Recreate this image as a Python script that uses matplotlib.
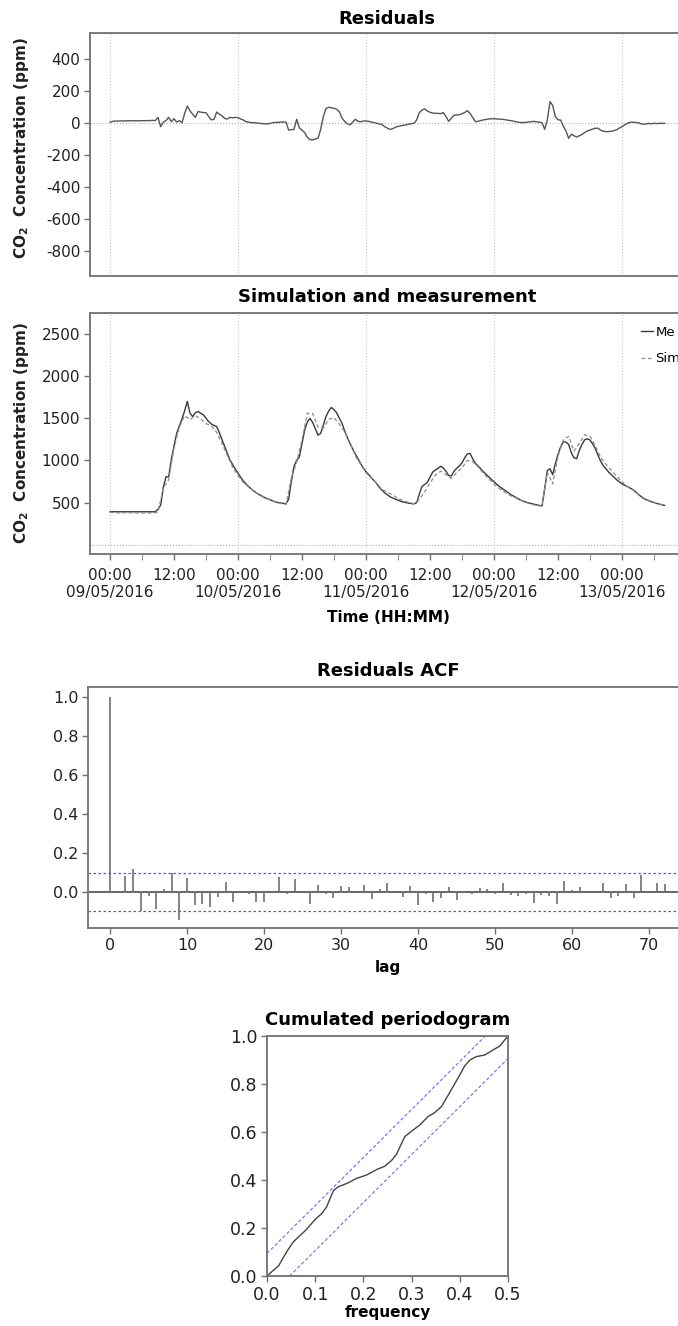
import matplotlib
matplotlib.use("Agg")
import matplotlib.pyplot as plt
import matplotlib.dates as mdates
import matplotlib.ticker as mticker
import numpy as np
import pandas as pd

plt.rcParams["font.family"] = ["DejaVu Sans"]
plt.rcParams["axes.unicode_minus"] = False
plt.rcParams["mathtext.fontset"] = "dejavusans"

START = "2016-05-09 00:00"

# CO2 measurement, every 30 min (ppm)
measured = [
    390, 392, 390, 390, 391, 390, 389, 390, 390, 390, 389, 390, 390, 390, 390, 390, 391, 390,
    420, 470, 680, 805, 805, 1010, 1170, 1320, 1410, 1490, 1590, 1700, 1560, 1520, 1565, 1580,
    1560, 1540, 1500, 1460, 1432, 1415, 1400, 1330, 1245, 1165, 1085, 1004, 950, 895,
    850, 800, 755, 720, 690, 660, 635, 612, 592, 575, 558, 545, 532, 520, 508, 500, 494, 490,
    484, 540, 750, 930, 1000, 1040, 1200, 1360, 1455, 1499, 1450, 1375, 1300, 1320, 1420, 1520,
    1585, 1628, 1600, 1566, 1500, 1440, 1350, 1270, 1200, 1135, 1075, 1020, 960, 910,
    866, 830, 795, 760, 725, 680, 645, 615, 592, 569, 553, 540, 528, 515, 505, 498, 492, 488,
    484, 500, 600, 690, 715, 740, 800, 860, 885, 905, 930, 910, 870, 820, 815, 870,
    905, 935, 970, 1030, 1076, 1084, 1020, 965, 935, 900, 866, 835, 805, 775,
    747, 718, 690, 668, 645, 625, 600, 582, 565, 545, 528, 515, 505, 495, 487, 480, 472, 466,
    460, 660, 880, 900, 830, 960, 1070, 1160, 1222, 1215, 1190, 1090, 1030, 1020, 1120, 1190,
    1245, 1255, 1242, 1195, 1140, 1060, 990, 935, 900, 860, 830, 800, 770, 745,
    722, 705, 690, 672, 655, 630, 600, 575, 550, 535, 522, 510, 500, 490, 480, 472, 465,
]

# CO2 simulation, hourly (ppm)
simulated = [
    385, 378, 378, 377, 377, 376, 375, 375, 375, 385, 675, 770, 1143, 1395, 1530, 1485,
    1530, 1492, 1436, 1412, 1332, 1200, 1060, 918,
    817, 737, 685, 633, 594, 563, 535, 505, 489, 479, 792, 977, 1245, 1560, 1556, 1396,
    1380, 1487, 1508, 1430, 1340, 1212, 1052, 952,
    853, 789, 727, 655, 624, 589, 550, 520, 500, 486, 535, 627, 733, 825, 872, 830,
    785, 855, 912, 999, 985, 925, 847, 780,
    720, 666, 624, 585, 557, 525, 501, 479, 465, 458, 860, 720, 1050, 1242, 1286, 1110,
    1200, 1305, 1286, 1173, 1035, 954, 882, 812,
    745, 688, 650, 598, 558, 525, 502, 482, 467,
]

# residuals, every 30 min (ppm)
residuals = [
    5, 10, 12, 12, 13, 12, 13, 14, 13, 14, 14, 13, 15, 14, 15, 15, 16, 15,
    35, -23, 5, 15, 35, 8, 27, 5, 15, 2, 60, 106, 75, 55, 35, 71, 68, 65, 64, 40, 20, 22,
    68, 55, 45, 28, 25, 35, 32, 35,
    33, 25, 18, 8, 5, 2, 2, 0, -2, -4, -5, -6, -3, 2, 3, 4, 5, 6,
    5, -44, -42, -40, 23, -30, -45, -60, -90, -104, -106, -100, -96, -40, 40, 90, 98, 95,
    92, 85, 70, 30, 10, -5, -12, 5, 23, 10, 8, 12,
    13, 10, 6, 2, -2, -6, -10, -23, -32, -40, -36, -27, -22, -18, -15, -12, -8, -5,
    -2, 19, 65, 80, 88, 75, 67, 62, 60, 60, 58, 65, 40, 10, 30, 48, 50, 52, 58, 65,
    77, 60, 35, 8, 10, 15, 19, 22, 25, 26,
    27, 25, 24, 23, 21, 18, 15, 13, 8, 5, 3, 2, 4, 6, 8, 10, 7, 5,
    2, -40, 20, 133, 110, 40, 20, 18, -20, -50, -96, -70, -80, -88, -80, -72, -60, -50,
    -44, -38, -33, -33, -45, -52, -54, -54, -52, -48, -42, -32,
    -23, -12, -2, 4, 5, 3, 2, -4, -8, -6, -3, -5, -2, -4, -2, -3, -2,
]

# legend labels as far as they show in the picture
series_labels = ["Me", "Sim"]

acf_values = [
    1.0, 0.005, 0.085, 0.12, -0.094, -0.019, -0.084, 0.02, 0.10, -0.142,
    0.075, -0.065, -0.06, -0.077, -0.022, 0.055, -0.051, -0.005, -0.009, -0.051,
    -0.051, 0.007, 0.08, -0.01, 0.068, 0.005, -0.06, 0.037, -0.01, -0.027,
    0.032, 0.028, 0.003, 0.04, -0.036, 0.017, 0.046, 0.008, -0.022, 0.031,
    -0.065, -0.009, -0.048, -0.026, 0.026, -0.04, 0.009, -0.008, 0.022, 0.015,
    -0.008, 0.05, -0.013, -0.018, -0.009, -0.056, -0.012, -0.017, -0.06, 0.058,
    0.014, 0.03, 0.005, -0.005, 0.046, -0.029, -0.019, 0.043, -0.031, 0.089,
    0.002, 0.046, 0.043,
]
acf_band = 0.097

cp_freq = [
    0.0, 0.010, 0.024, 0.033, 0.043, 0.055, 0.066, 0.081, 0.090, 0.100, 0.114, 0.124,
    0.131, 0.138, 0.148, 0.166, 0.186, 0.207, 0.228, 0.245, 0.259, 0.269, 0.276, 0.286,
    0.303, 0.317, 0.334, 0.348, 0.362, 0.376, 0.386, 0.400, 0.410, 0.421, 0.434, 0.452,
    0.469, 0.483, 0.493, 0.500,
]
cp_cum = [
    0.0, 0.018, 0.042, 0.074, 0.108, 0.143, 0.164, 0.192, 0.213, 0.236, 0.261, 0.289,
    0.324, 0.356, 0.372, 0.386, 0.407, 0.421, 0.444, 0.458, 0.483, 0.508, 0.539, 0.581,
    0.608, 0.629, 0.664, 0.681, 0.706, 0.754, 0.789, 0.838, 0.875, 0.900, 0.914, 0.921,
    0.942, 0.958, 0.983, 1.0,
]
cp_band = 0.094

W, H = 678, 1326
FRAME = "#707070"
TEXT = "#222222"


def px_axes(fig, left, top, right, bottom):
    return fig.add_axes([left / W, 1 - bottom / H, (right - left) / W, (bottom - top) / H])


def style_frame(ax, size):
    for spine in ax.spines.values():
        spine.set_color(FRAME)
        spine.set_linewidth(1.3)
    ax.tick_params(colors=FRAME, labelcolor=TEXT, labelsize=size, direction="out",
                   length=4, width=1.0, pad=3)


t0 = pd.Timestamp(START)
t_meas = pd.date_range(START, periods=len(measured), freq="30min")
t_sim = pd.date_range(START, periods=len(simulated), freq="1h")
t_res = pd.date_range(START, periods=len(residuals), freq="30min")
midnights = pd.date_range(START, t_meas[-1], freq="D")
major_times = pd.date_range(START, t_meas[-1], freq="12h")
minor_times = pd.date_range(t0 + pd.Timedelta(hours=6), t_meas[-1], freq="12h")
x_left = t0 + pd.Timedelta(days=(90 - 110) / 128)
x_right = t0 + pd.Timedelta(days=(720 - 110) / 128)

fig = plt.figure(figsize=(W / 100, H / 100), dpi=100)
ylabel = r"$\mathbf{CO_2}$  Concentration (ppm)"

# residuals
ax1 = px_axes(fig, 90, 33, 720, 276)
style_frame(ax1, 11)
for d in midnights:
    ax1.axvline(d, color="#c8c8c8", lw=0.8, ls=":", zorder=0)
ax1.axhline(0, color="#b0b0b0", lw=0.8, ls=":", zorder=0)
ax1.plot(t_res, residuals, color="#555555", lw=1.0)
ax1.set_xlim(x_left, x_right)
ax1.set_ylim(-956, 562)
ax1.set_yticks(np.arange(-800, 401, 200))
ax1.set_xticks([])
fig.text(387 / W, 1 - 24 / H, "Residuals", ha="center", va="baseline",
         fontsize=13, fontweight="bold")
fig.text(22 / W, 1 - 148 / H, ylabel, rotation=90, ha="center", va="center",
         fontsize=11, fontweight="bold", color=TEXT)

# simulation and measurement
ax2 = px_axes(fig, 90, 313, 720, 554)
style_frame(ax2, 11)
for d in midnights:
    ax2.axvline(d, color="#c8c8c8", lw=0.8, ls=":", zorder=0)
ax2.axhline(0, color="#b0b0b0", lw=0.8, ls=":", zorder=0)
ax2.plot(t_meas, measured, color="#3a3a3a", lw=1.0, label=series_labels[0])
ax2.plot(t_sim, simulated, color="#8c8c8c", lw=0.9, ls=(0, (3, 2)), label=series_labels[1])
ax2.set_xlim(x_left, x_right)
ax2.set_ylim(-111, 2749)
ax2.set_yticks(np.arange(500, 2501, 500))
ax2.xaxis.set_major_locator(mticker.FixedLocator(mdates.date2num(major_times)))
ax2.xaxis.set_minor_locator(mticker.FixedLocator(mdates.date2num(minor_times)))


def time_label(x, pos):
    d = mdates.num2date(x)
    if d.hour == 0:
        return d.strftime("%H:%M\n%d/%m/%Y")
    return d.strftime("%H:%M")


ax2.xaxis.set_major_formatter(mticker.FuncFormatter(time_label))
ax2.tick_params(axis="x", which="both", length=4, pad=6, colors=FRAME, labelcolor=TEXT)
ax2.legend(loc="upper left", bbox_to_anchor=(641 / W, 1 - 326 / H),
           bbox_transform=fig.transFigure, frameon=False, fontsize=9.5,
           handlelength=0.9, handletextpad=0.2, labelspacing=1.0,
           borderpad=0, borderaxespad=0)
fig.text(387 / W, 1 - 302 / H, "Simulation and measurement", ha="center", va="baseline",
         fontsize=13, fontweight="bold")
fig.text(22 / W, 1 - 433 / H, ylabel, rotation=90, ha="center", va="center",
         fontsize=11, fontweight="bold", color=TEXT)
fig.text(388 / W, 1 - 622 / H, "Time (HH:MM)", ha="center", va="baseline",
         fontsize=11, fontweight="bold")

# residuals ACF
ax3 = px_axes(fig, 88, 687, 720, 928)
style_frame(ax3, 11.5)
lags = np.arange(len(acf_values))
ax3.axhline(0, color="#666666", lw=1.4)
ax3.vlines(lags, 0, acf_values, color="#707070", lw=1.2)
ax3.axhline(acf_band, color="#5050ff", lw=0.9, ls=(0, (2, 2)))
ax3.axhline(-acf_band, color="#5050ff", lw=0.9, ls=(0, (2, 2)))
ax3.set_xlim(-2.86, 79.2)
ax3.set_ylim(-0.182, 1.051)
ax3.set_xticks(np.arange(0, 71, 10))
ax3.set_yticks(np.arange(0, 1.01, 0.2))
ax3.yaxis.set_major_formatter(mticker.FormatStrFormatter("%.1f"))
fig.text(388 / W, 1 - 676 / H, "Residuals ACF", ha="center", va="baseline",
         fontsize=13, fontweight="bold")
fig.text(388 / W, 1 - 972 / H, "lag", ha="center", va="baseline",
         fontsize=11, fontweight="bold")

# cumulated periodogram
ax4 = px_axes(fig, 267, 1036, 508, 1276)
style_frame(ax4, 12.5)
slope = 1 / max(cp_freq)
ax4.plot(cp_freq, cp_cum, color="#444444", lw=1.0)
ax4.axline((0, cp_band), slope=slope, color="#6a6aff", lw=0.8, ls=(0, (3, 2)))
ax4.axline((0, -cp_band), slope=slope, color="#6a6aff", lw=0.8, ls=(0, (3, 2)))
ax4.set_xlim(0, 0.5)
ax4.set_ylim(0, 1)
ax4.set_xticks(np.arange(0, 0.51, 0.1))
ax4.set_yticks(np.arange(0, 1.01, 0.2))
ax4.xaxis.set_major_formatter(mticker.FormatStrFormatter("%.1f"))
ax4.yaxis.set_major_formatter(mticker.FormatStrFormatter("%.1f"))
fig.text(387.5 / W, 1 - 1025 / H, "Cumulated periodogram", ha="center", va="baseline",
         fontsize=13, fontweight="bold")
fig.text(387.5 / W, 1 - 1317 / H, "frequency", ha="center", va="baseline",
         fontsize=11, fontweight="bold")

fig.savefig("out.png", dpi=100)
plt.close(fig)
